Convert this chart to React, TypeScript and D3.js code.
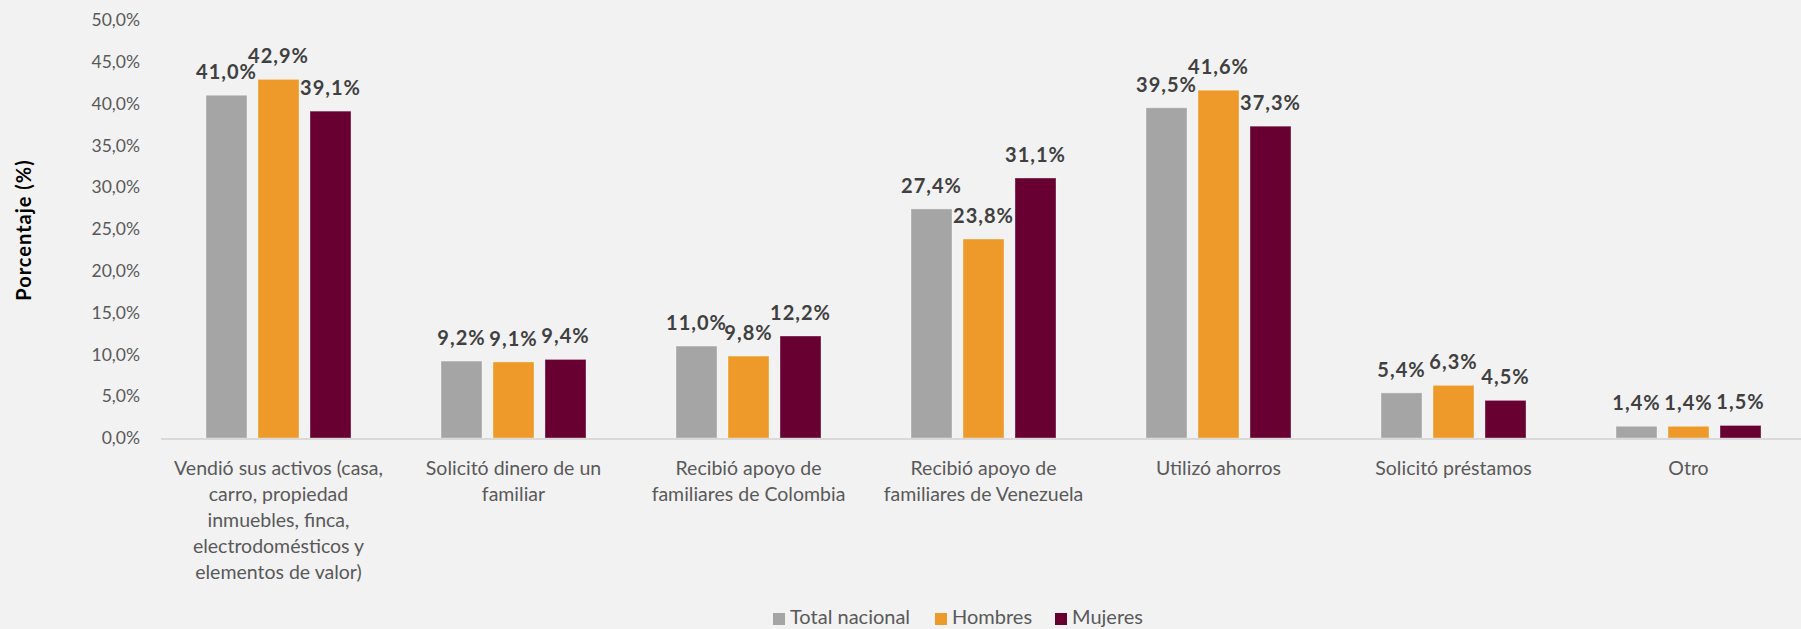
import React from "react";
import * as d3 from "d3";

const categories: string[][] = [
  ["Vendió sus activos (casa,", "carro, propiedad", "inmuebles, finca,", "electrodomésticos y", "elementos de valor)"],
  ["Solicitó dinero de un", "familiar"],
  ["Recibió apoyo de", "familiares de Colombia"],
  ["Recibió apoyo de", "familiares de Venezuela"],
  ["Utilizó ahorros"],
  ["Solicitó préstamos"],
  ["Otro"],
];
const seriesNames = ["Total nacional", "Hombres", "Mujeres"];
const totalNacional = [41.0, 9.2, 11.0, 27.4, 39.5, 5.4, 1.4];
const hombres = [42.9, 9.1, 9.8, 23.8, 41.6, 6.3, 1.4];
const mujeres = [39.1, 9.4, 12.2, 31.1, 37.3, 4.5, 1.5];
const yTicks = [0, 5, 10, 15, 20, 25, 30, 35, 40, 45, 50];
const colors = ["#a5a5a5", "#ee9a2b", "#680032"];

const W = 1801;
const H = 629;
const FONT = "Lato, 'Open Sans', sans-serif";

export default function App() {
  const series = [totalNacional, hombres, mujeres];
  const x = d3.scaleBand<number>().domain(d3.range(categories.length)).range([161, 1806]).paddingInner(0).paddingOuter(0);
  const y = d3.scaleLinear().domain([0, 50]).range([438, 20]);
  const barW = 41;
  const gap = 11;
  const groupW = 3 * barW + 2 * gap;
  const fmt = (v: number) => v.toFixed(1).replace(".", ",") + "%";

  const legendX = [773, 935, 1055];

  return (
    <svg width={W} height={H} style={{ position: "absolute", left: 0, top: 0, background: "#f2f2f2" }} fontFamily={FONT}>
      <rect x={0} y={0} width={W} height={H} fill="#f2f2f2" />
      {yTicks.map((t) => (
        <text key={t} x={140} y={y(t)} dy="0.35em" textAnchor="end" fontSize={17.5} fill="#595959">
          {t.toFixed(1).replace(".", ",") + "%"}
        </text>
      ))}
      <text
        transform={`translate(24,230) rotate(-90)`}
        textAnchor="middle"
        dy="0.35em"
        fontSize={20}
        letterSpacing={1}
        fontWeight="bold"
        fill="#000"
      >
        Porcentaje (%)
      </text>
      {categories.map((_, i) => {
        const cx = (x(i) as number) + x.bandwidth() / 2;
        const x0 = cx - groupW / 2;
        return (
          <g key={i}>
            {series.map((s, j) => {
              const bx = x0 + j * (barW + gap);
              return (
                <g key={j}>
                  <rect x={bx} y={y(s[i])} width={barW} height={y(0) - y(s[i])} fill={colors[j]} stroke="#ffffff" strokeOpacity={0.35} strokeWidth={1} />
                  <text x={bx + barW / 2} y={y(s[i]) - 16} textAnchor="middle" fontSize={20} letterSpacing={1} fontWeight="bold" fill="#404040">
                    {fmt(s[i])}
                  </text>
                </g>
              );
            })}
          </g>
        );
      })}
      <line x1={161} x2={W} y1={439} y2={439} stroke="#d9d9d9" strokeWidth={2} />
      {categories.map((lines, i) => {
        const cx = (x(i) as number) + x.bandwidth() / 2;
        return (
          <text key={i} textAnchor="middle" fontSize={19.5} fill="#595959">
            {lines.map((l, k) => (
              <tspan key={k} x={cx} y={475 + k * 26}>
                {l}
              </tspan>
            ))}
          </text>
        );
      })}
      {seriesNames.map((n, j) => (
        <g key={n}>
          <rect x={legendX[j]} y={613} width={12} height={12} fill={colors[j]} />
          <text x={legendX[j] + 17} y={624} fontSize={20} fill="#595959">
            {n}
          </text>
        </g>
      ))}
    </svg>
  );
}
